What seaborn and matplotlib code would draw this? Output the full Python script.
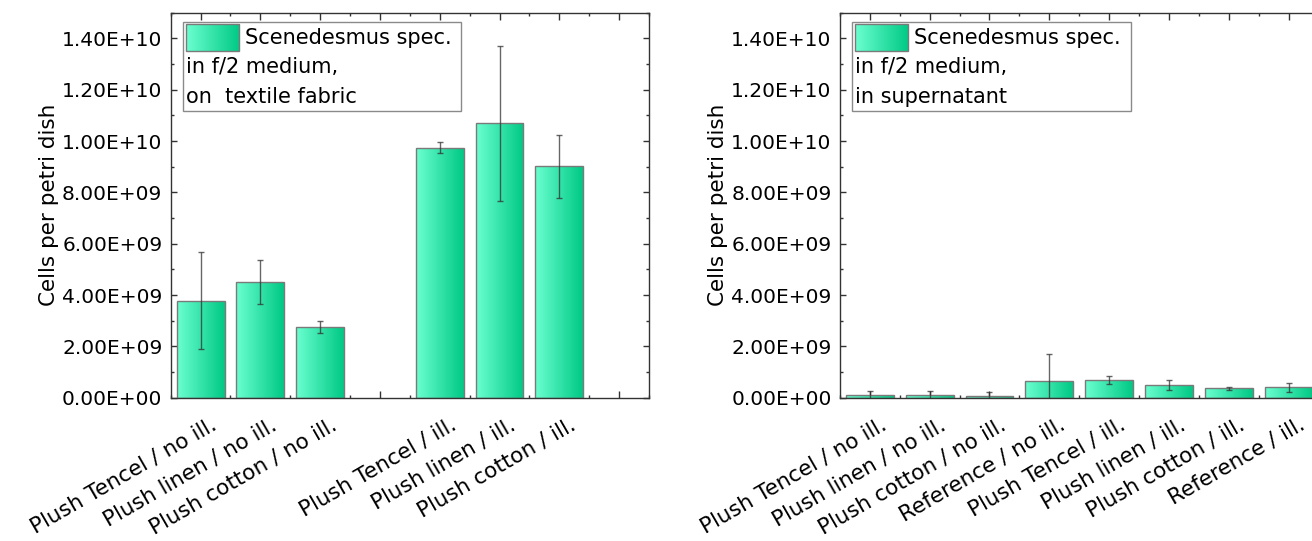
import numpy as np
import matplotlib
matplotlib.use("Agg")
import matplotlib.pyplot as plt
import seaborn as sns
from matplotlib.colors import LinearSegmentedColormap
from matplotlib.patches import Rectangle
from matplotlib.ticker import MultipleLocator, FuncFormatter
from matplotlib.transforms import ScaledTranslation

# values
fabric_labels = ["Plush Tencel / no ill.", "Plush linen / no ill.", "Plush cotton / no ill.",
                 "Plush Tencel / ill.", "Plush linen / ill.", "Plush cotton / ill."]
fabric_cells = [3.77e9, 4.51e9, 2.75e9, 9.74e9, 10.69e9, 9.01e9]
fabric_err = [1.89e9, 0.85e9, 0.23e9, 0.22e9, 3.02e9, 1.23e9]

super_labels = ["Plush Tencel / no ill.", "Plush linen / no ill.", "Plush cotton / no ill.",
                "Reference / no ill.", "Plush Tencel / ill.", "Plush linen / ill.",
                "Plush cotton / ill.", "Reference / ill."]
super_cells = [1.0e8, 1.0e8, 0.7e8, 6.6e8, 6.9e8, 5.0e8, 3.7e8, 4.0e8]
super_err = [1.5e8, 1.5e8, 1.7e8, 1.04e9, 1.45e8, 1.9e8, 0.6e8, 1.8e8]

legend_left = ["Scenedesmus spec.", "in f/2 medium,", "on  textile fabric"]
legend_right = ["Scenedesmus spec.", "in f/2 medium,", "in supernatant"]

sns.set_style("ticks")
plt.rcParams["font.family"] = ["DejaVu Sans"]
plt.rcParams["text.color"] = "black"
FS = 14.5

bar_cmap = LinearSegmentedColormap.from_list("bar", ["#6BFFCF", "#00C985"])
grad = np.linspace(0, 1, 256).reshape(1, -1)
spine_col = "#333333"


def draw_panel(ax, labels, order, cells, err, legend_lines):
    sns.barplot(x=labels, y=cells, order=order, ax=ax, width=0.8, color="#33E0A8",
                saturation=1, edgecolor="#7a7a7a", linewidth=1.0, errorbar=None)
    # gradient fill inside each bar
    for bar in list(ax.patches):
        x, y = bar.get_x(), bar.get_y()
        w, h = bar.get_width(), bar.get_height()
        ax.imshow(grad, extent=(x, x + w, y, y + h), aspect="auto", cmap=bar_cmap,
                  interpolation="bicubic", zorder=bar.get_zorder() - 0.01)
        bar.set_facecolor("none")
    pos = [order.index(l) for l in labels]
    ax.errorbar(pos, cells, yerr=err, fmt="none", ecolor=(0.2, 0.2, 0.2, 0.75),
                elinewidth=1.0, capsize=2.5, capthick=1.0, zorder=5)

    ax.set_xlim(-0.5, len(order) - 0.5)
    ax.set_ylim(0, 1.5e10)
    ax.yaxis.set_major_locator(MultipleLocator(2e9))
    ax.yaxis.set_minor_locator(MultipleLocator(1e9))
    ax.yaxis.set_major_formatter(FuncFormatter(lambda v, p: f"{v:.2E}"))
    ax.xaxis.set_minor_locator(MultipleLocator(0.5))
    ax.tick_params(axis="y", which="major", direction="in", length=4, width=1,
                   left=True, right=True, labelsize=FS, pad=6, color=spine_col,
                   labelcolor="black")
    ax.tick_params(axis="y", which="minor", direction="in", length=2.5, width=1,
                   left=True, right=True, color=spine_col)
    ax.tick_params(axis="x", which="major", direction="in", length=5, width=1,
                   bottom=True, top=True, labelsize=15.5, pad=12, color=spine_col,
                   labelcolor="black")
    ax.tick_params(axis="x", which="minor", direction="in", length=2.5, width=1,
                   bottom=True, top=True, color=spine_col)
    offset = ScaledTranslation(7 / 72, 0, ax.figure.dpi_scale_trans)
    for t in ax.get_xticklabels():
        t.set_rotation(30)
        t.set_ha("right")
        t.set_va("top")
        t.set_rotation_mode("anchor")
        t.set_transform(t.get_transform() + offset)
    for s in ax.spines.values():
        s.set_color(spine_col)
        s.set_linewidth(1.0)
    ax.set_xlabel("")
    ax.set_ylabel("Cells per petri dish", fontsize=15.5, labelpad=2, color="black")

    # legend box in the Origin style
    ax.add_patch(Rectangle((0.0247, 0.7455), 0.583, 0.2315, transform=ax.transAxes,
                           fill=False, edgecolor="#8a8a8a", linewidth=1.0, zorder=6))
    ax.imshow(grad, extent=(0.032, 0.1428, 0.9013, 0.9699), transform=ax.transAxes,
              aspect="auto", cmap=bar_cmap, interpolation="bicubic", zorder=6)
    ax.add_patch(Rectangle((0.032, 0.9013), 0.1108, 0.0686, transform=ax.transAxes,
                           fill=False, edgecolor="#7a7a7a", linewidth=1.0, zorder=7))
    ax.text(0.155, 0.9356, legend_lines[0], transform=ax.transAxes, fontsize=FS + 0.5,
            va="center", ha="left", zorder=7)
    ax.text(0.032, 0.8597, legend_lines[1], transform=ax.transAxes, fontsize=FS + 0.5,
            va="center", ha="left", zorder=7)
    ax.text(0.032, 0.7818, legend_lines[2], transform=ax.transAxes, fontsize=FS + 0.5,
            va="center", ha="left", zorder=7)
    ax.set_xlim(-0.5, len(order) - 0.5)
    ax.set_ylim(0, 1.5e10)


fig = plt.figure(figsize=(13.12, 5.41), dpi=100)
ax1 = fig.add_axes([0.1301, 0.2649, 0.3646, 0.7116])
ax2 = fig.add_axes([0.6402, 0.2649, 0.3647, 0.7116])

left_order = fabric_labels[:3] + [" "] + fabric_labels[3:] + ["  "]
draw_panel(ax1, fabric_labels, left_order, fabric_cells, fabric_err, legend_left)
draw_panel(ax2, super_labels, super_labels, super_cells, super_err, legend_right)

fig.savefig("out.png", dpi=100)
